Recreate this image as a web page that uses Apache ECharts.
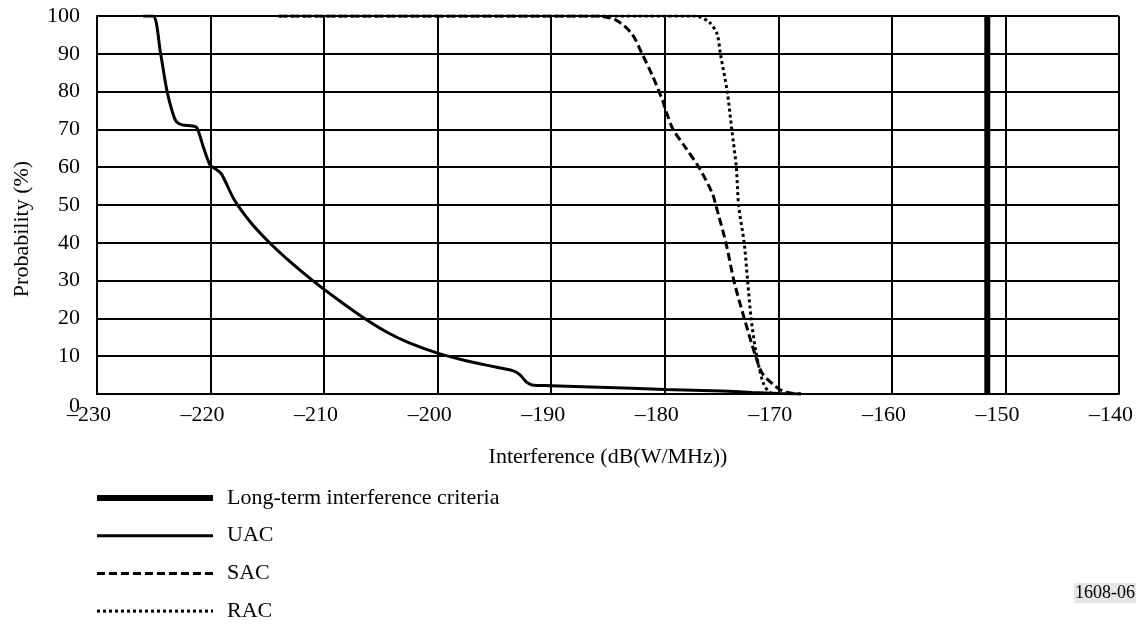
<!DOCTYPE html>
<html>
<head>
<meta charset="utf-8">
<script src="https://cdn.jsdelivr.net/npm/echarts@6/dist/echarts.min.js"></script>
<style>html,body{margin:0;padding:0;background:#fff}#c{width:1143px;height:624px}</style>
</head>
<body>
<div id="c"></div>
<script>
const FONT = "'Liberation Serif','Times New Roman',serif";
const xTicks = [-230,-220,-210,-200,-190,-180,-170,-160,-150,-140];
const yTicks = [0,10,20,30,40,50,60,70,80,90,100];
const criteriaX = -151.6;
const uacX = [-225.95,-225.07,-224.4,-223.84,-223.3,-223.0,-222.5,-221.6,-221.2,-220.6,-220.03,-219.65,-219.06,-217.9,-216.5,-214.8,-213.0,-211.0,-208.8,-206.6,-204.5,-202.5,-200.0,-197.5,-195.0,-193.4,-192.8,-192.2,-191.7,-190.0,-185.8,-180.0,-175.0,-172.3,-170.0,-168.0];
const uacP = [100,100,90.1,80.2,74,72.0,71.2,70.9,70.4,65,60.5,59.7,58.3,51.3,45.5,40,35,30,25,20.3,16.4,13.5,10.8,8.8,7.2,6.2,5.2,3.2,2.4,2.2,1.8,1.2,0.8,0.4,0.15,0];
const sacX = [-214.0,-186.1,-184.3,-182.9,-182.0,-181.1,-180.2,-179.9,-179.3,-178.2,-177.0,-175.8,-175.5,-174.6,-173.9,-173.0,-172.0,-171.4,-170.2,-169.4,-168.0];
const sacP = [100,100,98.9,95.3,90,84.3,77.7,75,70.2,65.3,60,53,49.9,39.8,29.8,20,10,5.4,1.9,0.5,0];
const racX = [-214.0,-177.3,-176.1,-175.4,-175.1,-174.5,-174.1,-173.7,-173.5,-173.0,-172.7,-172.4,-172.0,-171.7,-171.3,-170.8,-170.3];
const racP = [100,100,98.4,95.3,90,80,70,60,50,39.8,29.8,20,11.6,7.1,2.7,0.5,0];
const names = ['Long-term interference criteria','UAC','SAC','RAC'];

const zip = (a,b) => a.map((v,i)=>[v,b[i]]);
const chart = echarts.init(document.getElementById('c'), null, {renderer:'canvas'});
const fmtNum = v => String(v).replace('-', '\u2013');
chart.setOption({
  backgroundColor:'#fff',
  animation:false,
  textStyle:{fontFamily:FONT, color:'#000'},
  grid:{left:97, top:16, right:24, bottom:230, containLabel:false},
  xAxis:{
    type:'value', min:xTicks[0], max:xTicks[xTicks.length-1], interval:10,
    name:'Interference (dB(W/MHz))', nameLocation:'middle', nameGap:52,
    nameTextStyle:{fontFamily:FONT, fontSize:22, color:'#000'},
    axisLine:{show:true, onZero:false, lineStyle:{color:'#000', width:2}},
    axisTick:{show:false},
    axisLabel:{fontFamily:FONT, fontSize:22, color:'#000', margin:10, padding:[0,16,0,0], formatter:fmtNum},
    splitLine:{show:true, lineStyle:{color:'#000', width:2}}
  },
  yAxis:{
    type:'value', min:yTicks[0], max:yTicks[yTicks.length-1], interval:10,
    axisLine:{show:true, onZero:false, lineStyle:{color:'#000', width:2}},
    axisTick:{show:false},
    axisLabel:{fontFamily:FONT, fontSize:22, color:'#000', margin:17,
      formatter:v => v===0 ? '{z|0}' : String(v),
      rich:{z:{fontFamily:FONT, fontSize:22, color:'#000', padding:[24,0,0,0]}}},
    splitLine:{show:true, lineStyle:{color:'#000', width:2}}
  },
  legend:{
    orient:'vertical', left:94, top:487, height:200, padding:0,
    itemWidth:116, itemHeight:10, itemGap:15.7,
    itemStyle:{opacity:0},
    lineStyle:{width:'inherit'},
    textStyle:{fontFamily:FONT, fontSize:22, color:'#000', lineHeight:22, padding:[0,0,0,9]},
    data:names
  },
  graphic:[
    {type:'text', x:22, y:229, rotation:Math.PI/2,
     style:{text:'Probability (%)', font:'22px '+FONT, fill:'#000', textAlign:'center', textVerticalAlign:'middle'}},
    {type:'text', x:1136, y:593,
     style:{text:'1608-06', font:'18px '+FONT, fill:'#000', textAlign:'right', textVerticalAlign:'middle', backgroundColor:'#e6e6e6', padding:[2,1,0,1]}}
  ],
  series:[
    {name:names[0], type:'line', symbol:'none', data:[[criteriaX,0],[criteriaX,100]],
     lineStyle:{color:'#000', width:6}, itemStyle:{color:'#000'}, z:3},
    {name:names[1], type:'line', symbol:'none', smooth:0.3, data:zip(uacX,uacP),
     lineStyle:{color:'#000', width:3}, itemStyle:{color:'#000'}, z:4},
    {name:names[2], type:'line', symbol:'none', smooth:0.3, data:zip(sacX,sacP),
     lineStyle:{color:'#000', width:3, type:[8,4]}, itemStyle:{color:'#000'}, z:4},
    {name:names[3], type:'line', symbol:'none', smooth:0.3, data:zip(racX,racP),
     lineStyle:{color:'#000', width:3, type:[3,3]}, itemStyle:{color:'#000'}, z:4}
  ]
});
</script>
</body>
</html>
